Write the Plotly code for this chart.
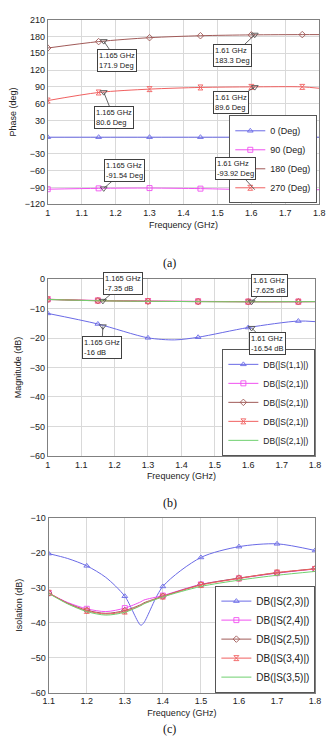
import plotly.graph_objects as go

# ---------------- (a) Phase ----------------
fa = [1.0, 1.15, 1.3, 1.45, 1.6, 1.75, 1.8]
ph0 = [0, 0, 0, 0, 0, 0, 0]
ph90 = [-93.0, -91.5, -91.0, -92.0, -93.8, -94.0, -94.0]
ph180 = [159.5, 171.0, 178.0, 181.5, 183.0, 183.5, 183.5]
ph270 = [65.5, 80.0, 86.0, 89.0, 90.0, 90.0, 87.5]
fa_mk = [1.0, 1.15, 1.3, 1.45, 1.6, 1.75]
names_a = ["0 (Deg)", "90 (Deg)", "180 (Deg)", "270 (Deg)"]
mark_a_f = [1.165, 1.61, 1.165, 1.61, 1.165, 1.61]
mark_a_v = [171.9, 183.3, 80.6, 89.6, -91.54, -93.92]

# ---------------- (b) Magnitude ----------------
fb = [1.0, 1.15, 1.3, 1.38, 1.45, 1.6, 1.75, 1.8]
s11 = [-11.6, -15.2, -19.9, -20.6, -19.7, -16.4, -14.2, -14.4]
s21a = [-6.8, -7.2, -7.4, -7.45, -7.5, -7.6, -7.6, -7.6]
s21b = [-6.9, -7.3, -7.5, -7.55, -7.6, -7.65, -7.65, -7.6]
s21c = [-6.8, -7.25, -7.45, -7.5, -7.55, -7.6, -7.6, -7.6]
s21d = [-6.85, -7.3, -7.5, -7.55, -7.6, -7.65, -7.6, -7.6]
fb_mk = [1.0, 1.15, 1.3, 1.45, 1.6, 1.75]
names_b = ["DB(|S(1,1)|)", "DB(|S(2,1)|)", "DB(|S(2,1)|)", "DB(|S(2,1)|)", "DB(|S(2,1)|)"]
mark_b_f = [1.165, 1.61, 1.165, 1.61]
mark_b_v = [-7.35, -7.625, -16.0, -16.54]

# ---------------- (c) Isolation ----------------
fc = [1.1, 1.15, 1.2, 1.25, 1.3, 1.342, 1.35, 1.4, 1.5, 1.6, 1.7, 1.8]
s23 = [-20.2, -21.6, -23.7, -27.0, -32.4, -40.7, -40.0, -29.6, -21.3, -18.2, -17.4, -19.3]
s24 = [-31.5, -34.2, -36.0, -36.8, -35.8, -34.0, -33.5, -32.2, -29.0, -27.3, -25.8, -24.6]
s25 = [-31.5, -34.4, -36.4, -37.3, -36.5, -34.8, -34.3, -32.4, -29.1, -27.2, -25.7, -24.5]
s34 = [-31.4, -34.5, -36.6, -37.5, -36.8, -35.0, -34.5, -32.5, -29.2, -27.3, -25.6, -24.6]
s35 = [-31.6, -34.6, -36.8, -37.8, -37.0, -35.1, -34.6, -32.6, -29.6, -27.8, -26.4, -25.3]
fc_mk = [1.1, 1.2, 1.3, 1.4, 1.5, 1.6, 1.7, 1.8]
names_c = ["DB(|S(2,3)|)", "DB(|S(2,4)|)", "DB(|S(2,5)|)", "DB(|S(3,4)|)", "DB(|S(3,5)|)"]

BLUE = "#6a6ae6"
MAG = "#f050f0"
BROWN = "#a05a58"
RED = "#f06060"
GREEN = "#70d070"
FONT = "Liberation Sans, Arial, sans-serif"

styles = [
    (BLUE, "triangle-up-open"),
    (MAG, "square-open"),
    (BROWN, "diamond-open"),
    (RED, "hourglass-open"),
    (GREEN, None),
]

fig = go.Figure()


def add_series(f, vals, fmk, name, style, xa, ya, leg):
    color, sym = style
    fig.add_trace(go.Scatter(x=f, y=vals, mode="lines", line=dict(color=color, width=1, shape="spline", smoothing=0.8),
                             xaxis=xa, yaxis=ya, showlegend=False, hoverinfo="skip"))
    if sym:
        mx = [x for x in f if any(abs(x - m) < 1e-9 for m in fmk)]
        my = [v for x, v in zip(f, vals) if any(abs(x - m) < 1e-9 for m in fmk)]
        fig.add_trace(go.Scatter(x=mx, y=my, mode="markers",
                                 marker=dict(symbol=sym, size=5, color=color, line=dict(width=0.9, color=color)),
                                 xaxis=xa, yaxis=ya, showlegend=False, hoverinfo="skip"))
    fig.add_trace(go.Scatter(x=[None], y=[None], mode="lines+markers" if sym else "lines", name=name,
                             line=dict(color=color, width=1),
                             marker=dict(symbol=sym or "circle", size=5, color=color, line=dict(width=0.9, color=color)),
                             xaxis=xa, yaxis=ya, legend=leg))


for vals, name, st in zip([ph0, ph90, ph180, ph270], names_a, styles):
    add_series(fa, vals, fa_mk, name, st, "x", "y", "legend")
for vals, name, st in zip([s11, s21a, s21b, s21c, s21d], names_b, styles):
    add_series(fb, vals, fb_mk, name, st, "x2", "y2", "legend2")
for vals, name, st in zip([s23, s24, s25, s34, s35], names_c, styles):
    add_series(fc, vals, fc_mk, name, st, "x3", "y3", "legend3")

# annotated marker points
fig.add_trace(go.Scatter(x=mark_a_f, y=mark_a_v, mode="markers", xaxis="x", yaxis="y", showlegend=False,
                         marker=dict(symbol="triangle-down-open", size=6, color="#555555", line=dict(width=0.9))))
fig.add_trace(go.Scatter(x=mark_b_f, y=mark_b_v, mode="markers", xaxis="x2", yaxis="y2", showlegend=False,
                         marker=dict(symbol="triangle-down-open", size=6, color="#555555", line=dict(width=0.9))))

ann = []
offs_a = [(13, 19), (-22, 21), (10, 25), (-24, 15), (21, -18), (-19, -21)]
for f, v, (ax, ay) in zip(mark_a_f, mark_a_v, offs_a):
    ann.append(dict(x=f, y=v, xref="x", yref="y", text=f"{f:g} GHz<br>{v:g} Deg", showarrow=True,
                    ax=ax, ay=ay, arrowhead=0, arrowwidth=0.8, arrowcolor="#404040", align="left",
                    bordercolor="#404040", borderwidth=1, borderpad=1, bgcolor="white",
                    font=dict(size=7.5, family=FONT, color="#222")))
offs_b = [(20, -17), (18, -16), (-1, 21), (16, 16)]
for f, v, (ax, ay) in zip(mark_b_f, mark_b_v, offs_b):
    ann.append(dict(x=f, y=v, xref="x2", yref="y2", text=f"{f:g} GHz<br>{v:g} dB", showarrow=True,
                    ax=ax, ay=ay, arrowhead=0, arrowwidth=0.8, arrowcolor="#404040", align="left",
                    bordercolor="#404040", borderwidth=1, borderpad=1, bgcolor="white",
                    font=dict(size=7.5, family=FONT, color="#222")))

for txt, yv, anc in [("(a)", 262, "middle"), ("(b)", 505, "middle"), ("(c)", 743, "bottom")]:
    ann.append(dict(x=170 / 331, y=1 - yv / 743, xref="paper", yref="paper", text=txt, showarrow=False,
                    xanchor="center", yanchor=anc, font=dict(size=12, family="Liberation Serif, serif", color="#111")))


def xaxis(dom, rng, anchor):
    return dict(domain=dom, range=rng, dtick=0.1, anchor=anchor, showgrid=True, gridcolor="#d9d9d9",
                showline=True, linecolor="#808080", mirror=True, zeroline=False, ticks="",
                tickfont=dict(size=9, family=FONT, color="#222"),
                title=dict(text="Frequency (GHz)", font=dict(size=9, family=FONT, color="#222"), standoff=4))


def yaxis(dom, rng, dt, anchor, title):
    return dict(domain=dom, range=rng, dtick=dt, anchor=anchor, showgrid=True, gridcolor="#d9d9d9",
                showline=True, linecolor="#808080", mirror=True, zeroline=False, ticks="",
                tickfont=dict(size=9, family=FONT, color="#222"),
                title=dict(text=title, font=dict(size=9, family=FONT, color="#222"), standoff=6))


def legend(xr, yb, size):
    return dict(x=xr / 331, y=1 - yb / 743, xanchor="right", yanchor="bottom", bgcolor="white",
                bordercolor="#555555", borderwidth=1, font=dict(size=size, family=FONT, color="#222"),
                itemwidth=30, tracegroupgap=0)


fig.update_layout(
    width=331, height=743, margin=dict(l=0, r=0, t=0, b=0),
    paper_bgcolor="white", plot_bgcolor="white",
    xaxis=xaxis([43.3 / 331, 325 / 331], [1, 1.8], "y"),
    yaxis=yaxis([1 - 202 / 743, 1 - 15 / 743], [-120, 210], 30, "x", "Phase (deg)"),
    xaxis2=xaxis([43.3 / 331, 320.7 / 331], [1, 1.8], "y2"),
    yaxis2=yaxis([1 - 457 / 743, 1 - 278 / 743], [-60, 0], 10, "x2", "Magnitude (dB)"),
    xaxis3=xaxis([44.3 / 331, 320.7 / 331], [1.1, 1.8], "y3"),
    yaxis3=yaxis([1 - 697 / 743, 1 - 520 / 743], [-60, -10], 10, "x3", "Isolation (dB)"),
    legend=legend(323, 201, 9),
    legend2=legend(321, 457, 8.5),
    legend3=legend(321, 697, 10),
    annotations=ann,
    showlegend=True,
)

fig.write_html("out.html")
